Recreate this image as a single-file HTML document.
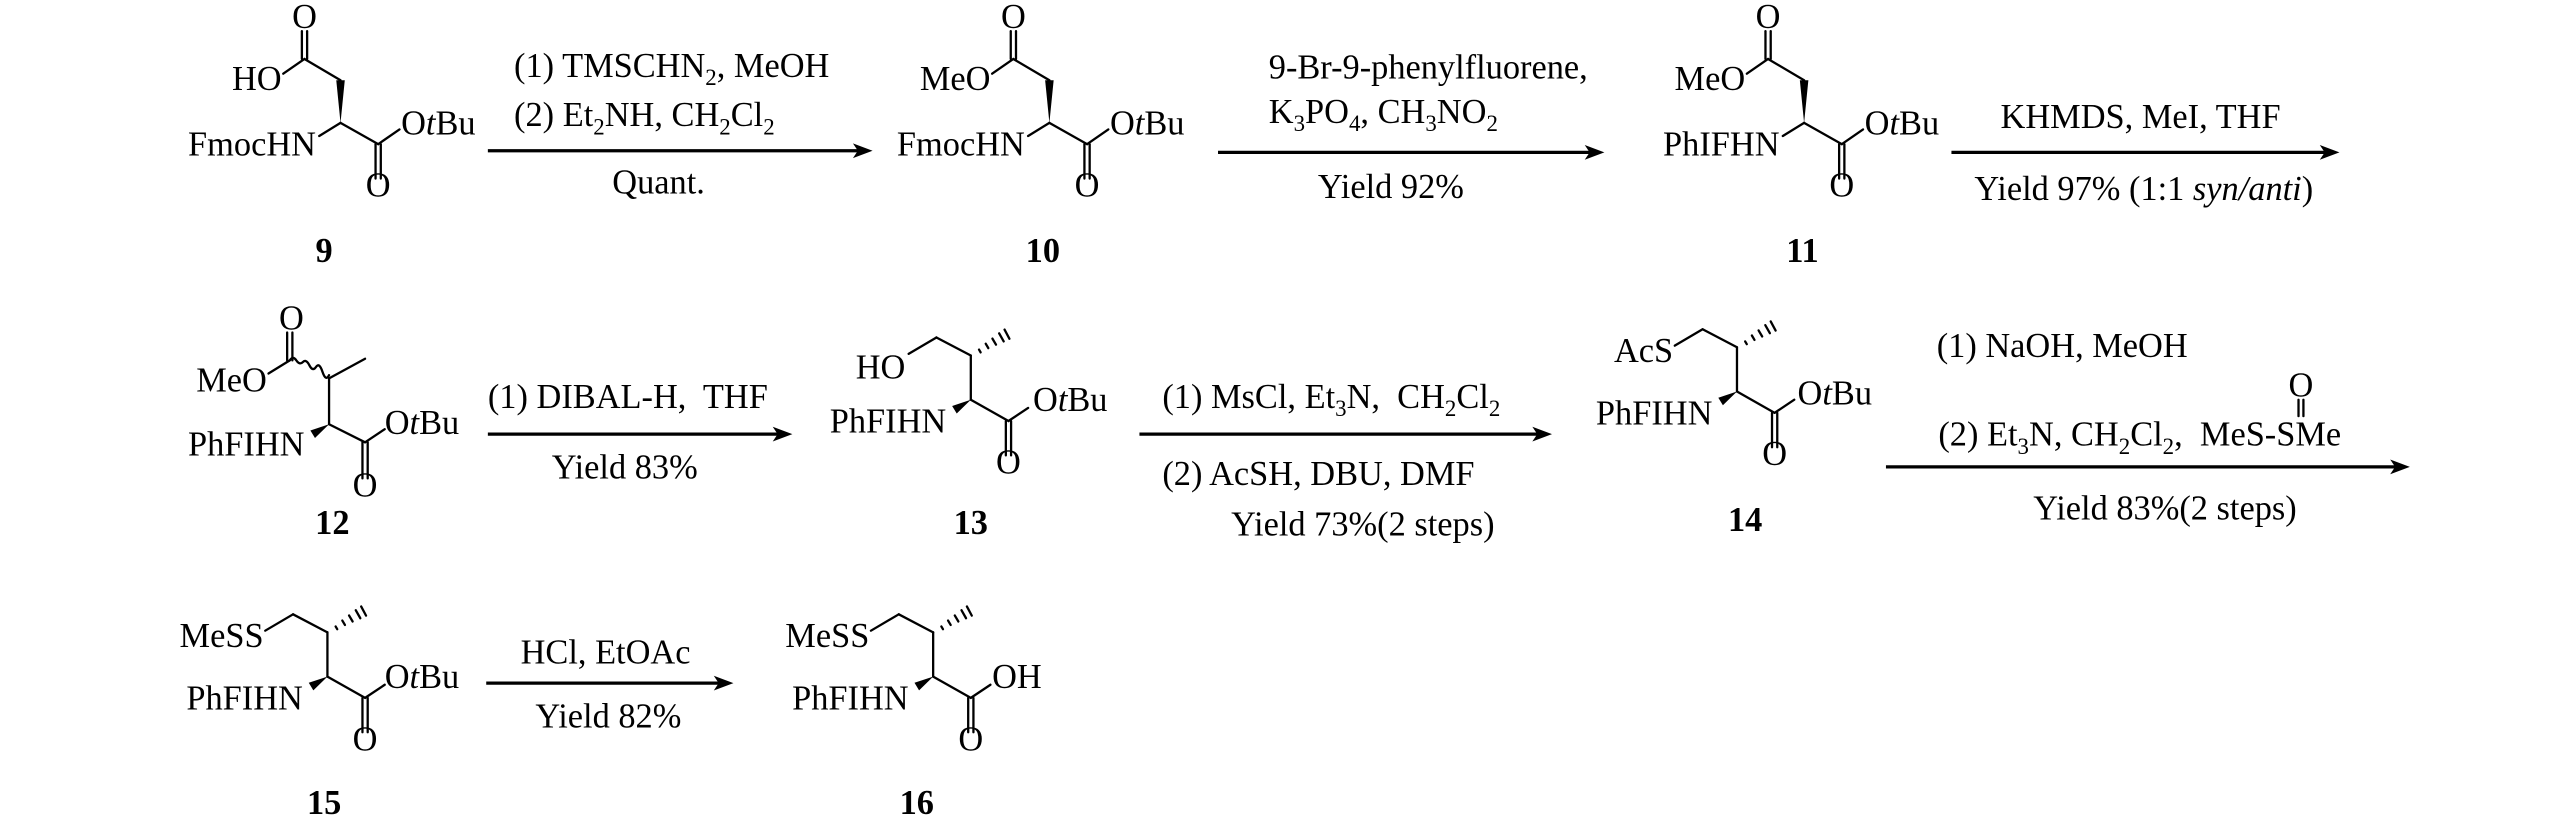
<!DOCTYPE html>
<html><head><meta charset="utf-8"><style>
html,body{margin:0;padding:0;background:#fff;}
svg{display:block;}
text{font-family:"Liberation Serif",serif;font-size:21px;fill:#000;}
.l{font-weight:bold;text-anchor:middle;}
.m{text-anchor:middle;}
.e{text-anchor:end;}
.b{stroke:#000;stroke-width:1.4;fill:none;stroke-linecap:round;}
.a{stroke:#000;stroke-width:2;fill:none;}
</style></head><body>
<svg width="2567" height="824" viewBox="0 0 1568 503" preserveAspectRatio="none" xmlns="http://www.w3.org/2000/svg">
<defs>
<g id="A">
 <line class="b" x1="-22" y1="-39" x2="-22" y2="-56" transform="translate(-1.6,0)"/>
 <line class="b" x1="-22" y1="-39" x2="-22" y2="-56" transform="translate(1.6,0)"/>
 <line class="b" x1="-22" y1="-39" x2="-35" y2="-30"/>
 <line class="b" x1="-22" y1="-39" x2="0" y2="-26"/>
 <polygon points="0,0 -2.6,-26 2.6,-26" fill="#000"/>
 <line class="b" x1="0" y1="0" x2="-13" y2="8"/>
 <line class="b" x1="0" y1="0" x2="23" y2="13"/>
 <line class="b" x1="21.4" y1="13" x2="21.4" y2="34"/>
 <line class="b" x1="24.6" y1="13" x2="24.6" y2="34"/>
 <line class="b" x1="23" y1="13" x2="36" y2="4"/>
 <text x="-22" y="-58" class="m">O</text>
 <text x="23" y="45" class="m">O</text>
 <text x="37" y="7">O<tspan font-style="italic">t</tspan>Bu</text>
</g>
<g id="B">
 <line class="b" x1="0" y1="0" x2="0" y2="-27"/>
 <line class="b" x1="0" y1="-27" x2="-21" y2="-38"/>
 <line class="b" x1="-21" y1="-38" x2="-38" y2="-28"/>
 <g class="b">
  <line x1="5" y1="-30.6" x2="6" y2="-28.9"/>
  <line x1="9.1" y1="-34.2" x2="10.7" y2="-31.5"/>
  <line x1="13.2" y1="-37.3" x2="15.4" y2="-33.6"/>
  <line x1="17.3" y1="-40.5" x2="20.1" y2="-35.6"/>
  <line x1="20.6" y1="-42.8" x2="23.6" y2="-37.2"/>
 </g>
 <polygon points="0,0 -8.6,8.4 -11.4,3.8" fill="#000"/>
 <line class="b" x1="0" y1="0" x2="23" y2="13"/>
 <line class="b" x1="21.4" y1="13" x2="21.4" y2="34"/>
 <line class="b" x1="24.6" y1="13" x2="24.6" y2="34"/>
 <line class="b" x1="23" y1="13" x2="35" y2="5"/>
 <text x="23" y="45" class="m">O</text>
 <text x="-15" y="20" class="e">PhFIHN</text>
</g>
</defs>

<!-- 9 -->
<g transform="translate(208,75)">
 <use href="#A"/>
 <text x="-36" y="-20" class="e">HO</text>
 <text x="-15" y="20" class="e">FmocHN</text>
 <text x="-10" y="85" class="l">9</text>
</g>
<!-- arrow 1 -->
<line class="a" x1="298" y1="92" x2="526" y2="92"/><polygon points="533,92 521,87.5 524,92 521,96.5" fill="#000"/>
<text x="314" y="47">(1) TMSCHN<tspan font-size="14" dy="5">2</tspan><tspan dy="-5">, MeOH</tspan></text>
<text x="314" y="77">(2) Et<tspan font-size="14" dy="5">2</tspan><tspan dy="-5">NH, CH</tspan><tspan font-size="14" dy="5">2</tspan><tspan dy="-5">Cl</tspan><tspan font-size="14" dy="5">2</tspan></text>
<text x="374" y="118">Quant.</text>

<!-- 10 -->
<g transform="translate(641,75)">
 <use href="#A"/>
 <text x="-36" y="-20" class="e">MeO</text>
 <text x="-15" y="20" class="e">FmocHN</text>
 <text x="-4" y="85" class="l">10</text>
</g>
<line class="a" x1="744" y1="93" x2="973" y2="93"/><polygon points="980,93 968,88.5 971,93 968,97.5" fill="#000"/>
<text x="775" y="48">9-Br-9-phenylfluorene,</text>
<text x="775" y="75">K<tspan font-size="14" dy="5">3</tspan><tspan dy="-5">PO</tspan><tspan font-size="14" dy="5">4</tspan><tspan dy="-5">, CH</tspan><tspan font-size="14" dy="5">3</tspan><tspan dy="-5">NO</tspan><tspan font-size="14" dy="5">2</tspan></text>
<text x="805" y="121">Yield 92%</text>

<!-- 11 -->
<g transform="translate(1102,75)">
 <use href="#A"/>
 <text x="-36" y="-20" class="e">MeO</text>
 <text x="-15" y="20" class="e">PhIFHN</text>
 <text x="-1" y="85" class="l">11</text>
</g>
<line class="a" x1="1192" y1="93" x2="1422" y2="93"/><polygon points="1429,93 1417,88.5 1420,93 1417,97.5" fill="#000"/>
<text x="1222" y="78">KHMDS, MeI, THF</text>
<text x="1206" y="122">Yield 97% (1:1 <tspan font-style="italic">syn/anti</tspan>)</text>

<!-- 12 -->
<g transform="translate(201,259)">
 <line class="b" x1="-25.6" y1="-39" x2="-25.6" y2="-56"/>
 <line class="b" x1="-22.4" y1="-39" x2="-22.4" y2="-56"/>
 <text x="-23" y="-58" class="m">O</text>
 <line class="b" x1="-24" y1="-39" x2="-37" y2="-31"/>
 <text x="-38" y="-20" class="e">MeO</text>
 <path class="b" d="M-24,-39 q2,-3 4,0 t4,1 t4,2 t4,1 t4,3 t4,2"/>
 <line class="b" x1="0" y1="-28" x2="22" y2="-40"/>
 <line class="b" x1="0" y1="-28" x2="0" y2="0"/>
 <polygon points="0,0 -8.6,8.4 -11.4,3.8" fill="#000"/>
 <line class="b" x1="0" y1="0" x2="22" y2="11"/>
 <line class="b" x1="20.4" y1="11" x2="20.4" y2="33"/>
 <line class="b" x1="23.6" y1="11" x2="23.6" y2="33"/>
 <line class="b" x1="22" y1="11" x2="34" y2="3"/>
 <text x="22" y="44" class="m">O</text>
 <text x="34" y="6">O<tspan font-style="italic">t</tspan>Bu</text>
 <text x="-15" y="19" class="e">PhFIHN</text>
 <text x="2" y="67" class="l">12</text>
</g>
<line class="a" x1="298" y1="265" x2="477" y2="265"/><polygon points="484,265 472,260.5 475,265 472,269.5" fill="#000"/>
<text x="298" y="249">(1) DIBAL-H,&#160; THF</text>
<text x="337" y="292">Yield 83%</text>

<!-- 13 -->
<g transform="translate(593,244)">
 <use href="#B"/>
 <text x="-40" y="-13" class="e">HO</text>
 <text x="38" y="7">O<tspan font-style="italic">t</tspan>Bu</text>
 <text x="0" y="82" class="l">13</text>
</g>
<line class="a" x1="696" y1="265" x2="941" y2="265"/><polygon points="948,265 936,260.5 939,265 936,269.5" fill="#000"/>
<text x="710" y="249">(1) MsCl, Et<tspan font-size="14" dy="5">3</tspan><tspan dy="-5">N,&#160; CH</tspan><tspan font-size="14" dy="5">2</tspan><tspan dy="-5">Cl</tspan><tspan font-size="14" dy="5">2</tspan></text>
<text x="710" y="296">(2) AcSH, DBU, DMF</text>
<text x="752" y="327">Yield 73%(2 steps)</text>

<!-- 14 -->
<g transform="translate(1061,239)">
 <use href="#B"/>
 <text x="-39" y="-18" class="e">AcS</text>
 <text x="37" y="8">O<tspan font-style="italic">t</tspan>Bu</text>
 <text x="5" y="85" class="l">14</text>
</g>
<line class="a" x1="1152" y1="285" x2="1465" y2="285"/><polygon points="1472,285 1460,280.5 1463,285 1460,289.5" fill="#000"/>
<text x="1183" y="218">(1) NaOH, MeOH</text>
<text x="1405.5" y="242" class="m">O</text>
<line class="b" x1="1404" y1="244" x2="1404" y2="254"/>
<line class="b" x1="1407" y1="244" x2="1407" y2="254"/>
<text x="1184" y="272">(2) Et<tspan font-size="14" dy="5">3</tspan><tspan dy="-5">N, CH</tspan><tspan font-size="14" dy="5">2</tspan><tspan dy="-5">Cl</tspan><tspan font-size="14" dy="5">2</tspan><tspan dy="-5">,&#160; MeS-SMe</tspan></text>
<text x="1242" y="317">Yield 83%(2 steps)</text>

<!-- 15 -->
<g transform="translate(200,413)">
 <use href="#B"/>
 <text x="-39" y="-18" class="e">MeSS</text>
 <text x="35" y="7">O<tspan font-style="italic">t</tspan>Bu</text>
 <text x="-2" y="84" class="l">15</text>
</g>
<line class="a" x1="297" y1="417" x2="441" y2="417"/><polygon points="448,417 436,412.5 439,417 436,421.5" fill="#000"/>
<text x="318" y="405">HCl, EtOAc</text>
<text x="327" y="444">Yield 82%</text>

<!-- 16 -->
<g transform="translate(570,413)">
 <use href="#B"/>
 <text x="-39" y="-18" class="e">MeSS</text>
 <text x="36" y="7">OH</text>
 <text x="-10" y="84" class="l">16</text>
</g>
</svg>
</body></html>
